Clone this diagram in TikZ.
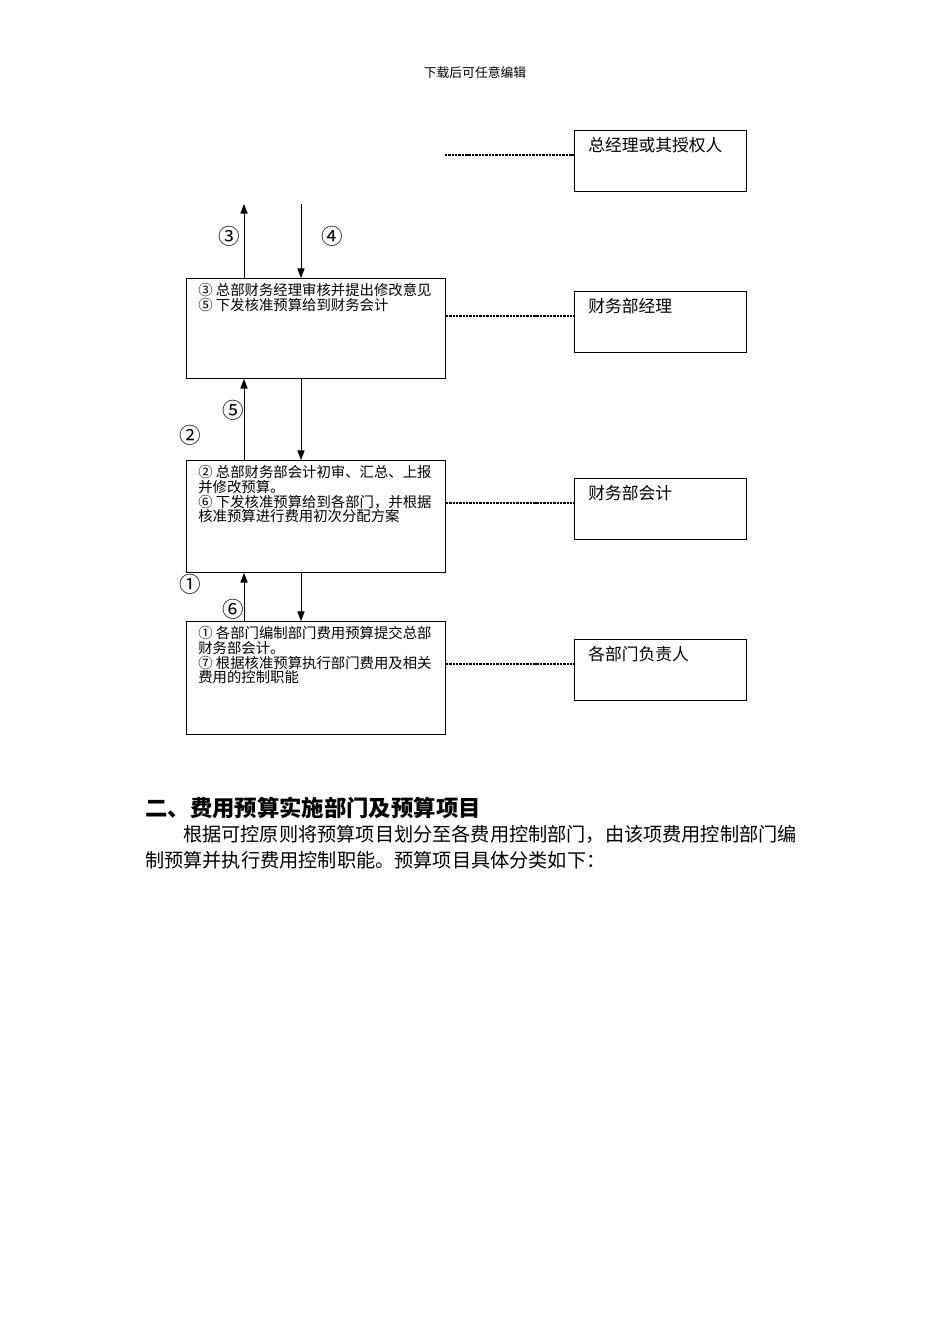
\documentclass[tikz,border=0pt]{standalone}
\usepackage{fontspec}
\setmainfont{Noto Sans CJK SC}
\usetikzlibrary{arrows.meta}
\tikzset{
  flow/.style={line width=0.6pt,-{Triangle[length=6pt,width=4.5pt]}},
  link/.style={line width=1.4pt,dash pattern=on 1.5pt off 0.6pt},
}
\begin{document}
\begin{tikzpicture}[x=0.626pt,y=-0.626pt]
  \useasboundingbox (0,0) rectangle (950,1344);

  \node[font=\fontsize{8}{8}\selectfont] (head) at (475,73) {下载后可任意编辑};

  \begin{scope}[every node/.style={draw,line width=0.6pt,anchor=north west,inner sep=0pt}]
    \node[minimum width=162.1pt,minimum height=62.6pt] (l1) at (186,278) {};
    \node[minimum width=162.1pt,minimum height=70.1pt] (l2) at (186,460) {};
    \node[minimum width=162.1pt,minimum height=70.7pt] (l3) at (186,621) {};
    \node[minimum width=107.7pt,minimum height=38.2pt] (r1) at (574,130) {};
    \node[minimum width=107.7pt,minimum height=38.2pt] (r2) at (574,291) {};
    \node[minimum width=107.7pt,minimum height=38.2pt] (r3) at (574,478) {};
    \node[minimum width=107.7pt,minimum height=38.2pt] (r4) at (574,639) {};
  \end{scope}

  \begin{scope}[every node/.style={anchor=north west,inner sep=0pt,align=left,
      font=\fontsize{9}{9.3}\selectfont}]
    \node (t1) at ([xshift=7.5pt,yshift=-3pt]l1.north west)
      {③ 总部财务经理审核并提出修改意见\\⑤ 下发核准预算给到财务会计};
    \node (t2) at ([xshift=7.5pt,yshift=-3pt]l2.north west)
      {② 总部财务部会计初审、汇总、上报\\并修改预算。\\⑥ 下发核准预算给到各部门，并根据\\核准预算进行费用初次分配方案};
    \node (t3) at ([xshift=7.5pt,yshift=-3pt]l3.north west)
      {① 各部门编制部门费用预算提交总部\\财务部会计。\\⑦ 根据核准预算执行部门费用及相关\\费用的控制职能};
  \end{scope}

  \begin{scope}[every node/.style={anchor=west,inner sep=0pt,font=\fontsize{10.5}{10.5}\selectfont}]
    \node at (588,145) {总经理或其授权人};
    \node at (588,306) {财务部经理};
    \node at (588,493) {财务部会计};
    \node at (588,654) {各部门负责人};
  \end{scope}

  \coordinate (lx) at (244,0);
  \coordinate (rx) at (301,0);
  \coordinate (up) at (244,204);
  \coordinate (down) at (301,204);

  \draw[flow] (l1.north -| lx) -- (up);
  \draw[flow] (down) -- (l1.north -| rx);
  \draw[flow] (l2.north -| lx) -- (l1.south -| lx);
  \draw[flow] (l1.south -| rx) -- (l2.north -| rx);
  \draw[flow] (l3.north -| lx) -- (l2.south -| lx);
  \draw[flow] (l2.south -| rx) -- (l3.north -| rx);

  \begin{scope}[every node/.style={inner sep=0pt,font=\fontsize{13.5}{13.5}\selectfont}]
    \node (n3) at (229,236) {③};
    \node (n4) at (332,236) {④};
    \node (n5) at (233,410) {⑤};
    \node (n2) at (190,435) {②};
    \node (n1) at (190,584) {①};
    \node (n6) at (233,609) {⑥};
  \end{scope}

  \coordinate (e1) at (445,155);
  \coordinate (e2) at (0,316);
  \coordinate (e3) at (0,503);
  \coordinate (e4) at (0,664);
  \draw[link] (e1) -- (r1.west |- e1);
  \draw[link] (l1.east |- e2) -- (r2.west |- e2);
  \draw[link] (l2.east |- e3) -- (r3.west |- e3);
  \draw[link] (l3.east |- e4) -- (r4.west |- e4);

  \node[anchor=base west,inner sep=0pt,font=\fontsize{14}{14}\bfseries] (sec) at (145,816)
    {二、费用预算实施部门及预算项目};
  \begin{scope}[every node/.style={anchor=base west,inner sep=0pt,font=\fontsize{12}{12}\selectfont}]
    \node (p1) at (183,841) {根据可控原则将预算项目划分至各费用控制部门，由该项费用控制部门编};
    \node (p2) at (145,867) {制预算并执行费用控制职能。预算项目具体分类如下：};
  \end{scope}
\end{tikzpicture}
\end{document}
